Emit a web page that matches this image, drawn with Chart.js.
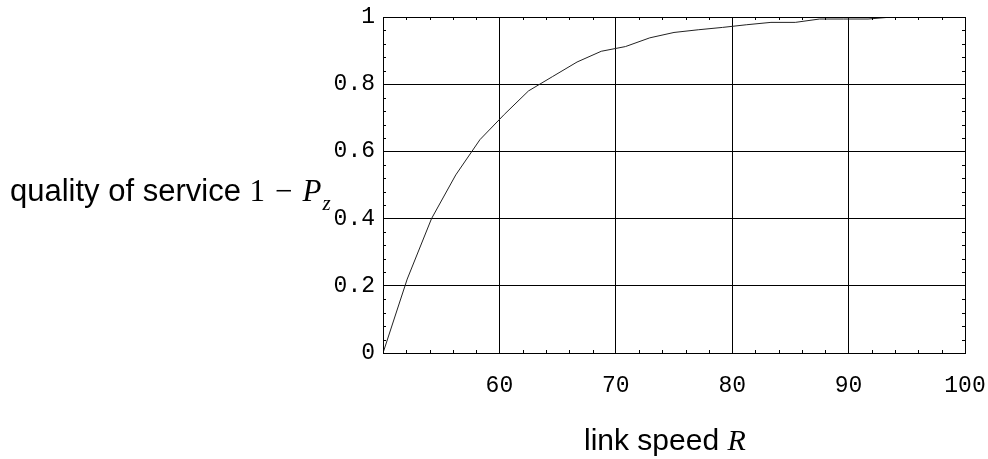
<!DOCTYPE html>
<html>
<head>
<meta charset="utf-8">
<script src="https://cdn.jsdelivr.net/npm/chart.js@4"></script>
<style>
  body { margin: 0; background: #fff; }
  #wrap { width: 988px; height: 459px; }
</style>
</head>
<body>
<div id="wrap"><canvas id="qos" width="988" height="459"></canvas></div>
<script>
// link speed R (sample points of the plot) and quality of service 1 - Pz
var speeds = [50, 52.08, 54.17, 56.25, 58.33, 60.42, 62.5, 64.58, 66.67, 68.75, 70.83, 72.92,
              75, 77.08, 79.17, 81.25, 83.33, 85.42, 87.5, 89.58, 91.67, 93.75, 95.83, 97.92, 100];
var qos = [0, 0.22, 0.40, 0.53, 0.635, 0.71, 0.78, 0.823, 0.866, 0.898, 0.912, 0.938,
           0.954, 0.962, 0.969, 0.977, 0.984, 0.984, 0.994, 0.994, 0.994, 1, 1, 1, 1];
var xTicks = [50, 60, 70, 80, 90, 100];
var yTicks = [0, 0.2, 0.4, 0.6, 0.8, 1];

var tickFont = { family: "'Liberation Mono', 'Courier New', monospace", size: 23 };

// frame, minor tick marks and the two axis titles
var framePlugin = {
    id: 'frame',
    afterDraw: function(chart) {
        var ctx = chart.ctx, a = chart.chartArea;
        var xs = chart.scales.x, ys = chart.scales.y;
        ctx.save();
        ctx.strokeStyle = '#000';
        ctx.lineWidth = 1;
        ctx.strokeRect(Math.round(a.left) + 0.5, Math.round(a.top) + 0.5,
                       Math.round(a.right - a.left), Math.round(a.bottom - a.top));
        ctx.beginPath();
        for (var v = 52; v < 100; v += 2) {
            if (v % 10 == 0) continue;
            var px = Math.round(xs.getPixelForValue(v)) + 0.5;
            ctx.moveTo(px, a.bottom); ctx.lineTo(px, a.bottom - 3);
            ctx.moveTo(px, a.top); ctx.lineTo(px, a.top + 3);
        }
        for (var k = 1; k < 25; k++) {
            if (k % 5 == 0) continue;
            var py = Math.round(ys.getPixelForValue(k * 0.04)) + 0.5;
            ctx.moveTo(a.left, py); ctx.lineTo(a.left + 3, py);
            ctx.moveTo(a.right, py); ctx.lineTo(a.right - 3, py);
        }
        ctx.stroke();

        ctx.fillStyle = '#000';
        ctx.textBaseline = 'alphabetic';
        ctx.textAlign = 'left';
        // y title
        var x = 10, base = 201;
        ctx.font = "31px 'Liberation Sans', Arial, sans-serif";
        ctx.fillText('quality of service ', x, base);
        x += ctx.measureText('quality of service ').width;
        ctx.font = "31px 'Liberation Serif', 'Times New Roman', serif";
        ctx.fillText('1', x, base);
        x += ctx.measureText('1').width + 10;
        ctx.fillText('\u2212', x, base);
        x += ctx.measureText('\u2212').width + 10;
        ctx.font = "italic 31px 'Liberation Serif', 'Times New Roman', serif";
        ctx.fillText('P', x, base);
        x += ctx.measureText('P').width + 1;
        ctx.font = "italic 21px 'Liberation Serif', 'Times New Roman', serif";
        ctx.fillText('z', x, base + 9);
        // x title
        x = 584; base = 450;
        ctx.font = "30px 'Liberation Sans', Arial, sans-serif";
        ctx.fillText('link speed ', x, base);
        x += ctx.measureText('link speed ').width;
        ctx.font = "italic 30px 'Liberation Serif', 'Times New Roman', serif";
        ctx.fillText('R', x, base);
        ctx.restore();
    }
};

var chart = new Chart(document.getElementById('qos').getContext('2d'), {
    type: 'line',
    data: {
        datasets: [{
            label: 'quality of service',
            data: speeds.map(function(s, i) { return { x: s, y: qos[i] }; }),
            borderColor: '#222',
            borderWidth: 1,
            pointRadius: 0,
            fill: false,
            tension: 0
        }]
    },
    options: {
        responsive: false,
        animation: false,
        devicePixelRatio: 1,
        layout: { padding: { left: 0, top: 17, right: 23, bottom: 0 } },
        plugins: { legend: { display: false }, tooltip: { enabled: false } },
        scales: {
            x: {
                type: 'linear',
                min: 50,
                max: 100,
                afterBuildTicks: function(s) {
                    s.ticks = xTicks.map(function(v) { return { value: v }; });
                },
                afterFit: function(s) {
                    s.height = 106;
                    s.paddingLeft = 0;
                    s.paddingRight = 0;
                },
                ticks: {
                    color: '#000',
                    font: tickFont,
                    padding: 19,
                    maxRotation: 0,
                    callback: function(v) { return v == 50 ? '' : String(v); }
                },
                grid: {
                    drawTicks: false,
                    color: function(c) {
                        var v = c.tick && c.tick.value;
                        return (v == 50 || v == 100) ? 'rgba(0,0,0,0)' : '#000';
                    }
                },
                border: { display: false }
            },
            y: {
                min: 0,
                max: 1,
                afterBuildTicks: function(s) {
                    s.ticks = yTicks.map(function(v) { return { value: v }; });
                },
                afterFit: function(s) {
                    s.width = 383;
                    s.paddingTop = 0;
                    s.paddingBottom = 0;
                },
                ticks: {
                    color: '#000',
                    font: tickFont,
                    padding: 8,
                    callback: function(v) { return String(v); }
                },
                grid: {
                    drawTicks: false,
                    color: function(c) {
                        var v = c.tick && c.tick.value;
                        return (v == 0 || v == 1) ? 'rgba(0,0,0,0)' : '#000';
                    }
                },
                border: { display: false }
            }
        }
    },
    plugins: [framePlugin]
});
</script>
</body>
</html>
